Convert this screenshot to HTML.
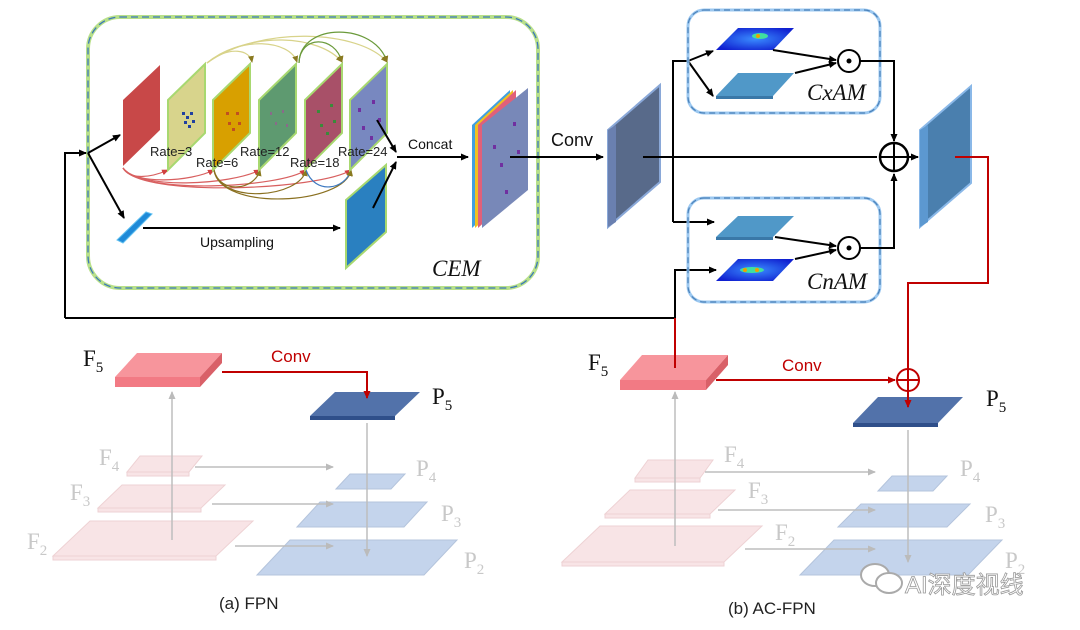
<!DOCTYPE html>
<html><head><meta charset="utf-8"><style>
html,body{margin:0;padding:0;background:#fff;width:1080px;height:630px;overflow:hidden}
svg{display:block}
text{font-family:"Liberation Sans","Noto Sans CJK SC",sans-serif}
text.s,.s text{font-family:"Liberation Serif",serif}
</style></head><body>
<svg width="1080" height="630" viewBox="0 0 1080 630" xmlns="http://www.w3.org/2000/svg">
<defs>
<marker id="ak" markerWidth="8" markerHeight="8" refX="7" refY="4" orient="auto" markerUnits="userSpaceOnUse"><path d="M0,0.5 L8,4 L0,7.5z" fill="#000"/></marker>
<marker id="ar" markerWidth="8" markerHeight="8" refX="7" refY="4" orient="auto" markerUnits="userSpaceOnUse"><path d="M0,0.5 L8,4 L0,7.5z" fill="#c00000"/></marker>
<marker id="ag" markerWidth="8" markerHeight="8" refX="7" refY="4" orient="auto" markerUnits="userSpaceOnUse"><path d="M0,0.5 L8,4 L0,7.5z" fill="#bbb"/></marker>
<marker id="ay" markerWidth="7" markerHeight="7" refX="6" refY="3.5" orient="auto" markerUnits="userSpaceOnUse"><path d="M0,0.5 L7,3.5 L0,6.5z" fill="#8a7a20"/></marker>
<marker id="arr" markerWidth="7" markerHeight="7" refX="6" refY="3.5" orient="auto" markerUnits="userSpaceOnUse"><path d="M0,0.5 L7,3.5 L0,6.5z" fill="#d04040"/></marker>
<radialGradient id="hm" cx="0.5" cy="0.5" r="0.6"><stop offset="0" stop-color="#3a8cff"/><stop offset="1" stop-color="#1020d0"/></radialGradient>
</defs>

<!-- CEM box -->
<rect x="88" y="17" width="450" height="271" rx="32" fill="none" stroke="#b8e08a" stroke-width="4"/>
<rect x="88" y="17" width="450" height="271" rx="32" fill="none" stroke="#3c78b8" stroke-width="1.3" stroke-dasharray="7,4"/>

<!-- input lines -->
<polyline points="65,318 65,153 86,153" fill="none" stroke="#000" stroke-width="2" marker-end="url(#ak)"/>
<line x1="88" y1="153" x2="120" y2="135" stroke="#000" stroke-width="2" marker-end="url(#ak)"/>
<line x1="88" y1="153" x2="124" y2="218" stroke="#000" stroke-width="2" marker-end="url(#ak)"/>
<polyline points="65,318 675,318 675,270 716,270" fill="none" stroke="#000" stroke-width="2" marker-end="url(#ak)"/>

<!-- curved arcs -->
<g fill="none" stroke-width="1.2">
<path d="M207,63 C230,45 250,50 252,62" stroke="#d8d38a" marker-end="url(#ay)"/>
<path d="M207,63 C240,35 290,40 297,62" stroke="#d8d38a" marker-end="url(#ay)"/>
<path d="M207,63 C250,30 320,35 342,62" stroke="#d8d38a" marker-end="url(#ay)"/>
<path d="M207,63 C260,25 360,30 387,62" stroke="#d8d38a" marker-end="url(#ay)"/>
<path d="M299,63 C300,35 335,35 342,62" stroke="#6a9a3a" marker-end="url(#ay)"/>
<path d="M299,63 C300,22 375,22 387,62" stroke="#6a9a3a" marker-end="url(#ay)"/>
<path d="M123,168 C130,180 150,178 168,170" stroke="#d86060" marker-end="url(#arr)"/>
<path d="M123,168 C135,185 190,182 214,170" stroke="#d86060" marker-end="url(#arr)"/>
<path d="M123,168 C140,190 230,185 260,170" stroke="#d86060" marker-end="url(#arr)"/>
<path d="M123,168 C140,195 280,188 306,170" stroke="#d86060" marker-end="url(#arr)"/>
<path d="M123,168 C140,198 320,190 351,170" stroke="#d86060" marker-end="url(#arr)"/>
<path d="M214,170 C220,195 255,190 260,170" stroke="#8a7020" marker-end="url(#ay)"/>
<path d="M214,170 C220,205 300,198 306,170" stroke="#8a7020" marker-end="url(#ay)"/>
<path d="M214,170 C220,212 345,205 351,170" stroke="#8a7020" marker-end="url(#ay)"/>
<path d="M306,170 C315,195 345,190 351,170" stroke="#3c78c0" marker-end="url(#ay)"/>
</g>

<!-- feature planes -->
<polygon points="123,100 160,65 160,130 123,166" fill="#c84848"/>
<polygon points="168,100 205,64 205,133 168,170" fill="#d8d48c" stroke="#a8d870" stroke-width="2"/>
<polygon points="213,100 250,64 250,133 213,170" fill="#d8a000" stroke="#a8d870" stroke-width="2"/>
<polygon points="259,100 296,64 296,133 259,170" fill="#5e9a70" stroke="#a8d870" stroke-width="2"/>
<polygon points="305,100 342,64 342,133 305,170" fill="#a85068" stroke="#a8d870" stroke-width="2"/>
<polygon points="350,100 387,64 387,133 350,170" fill="#7888c0" stroke="#a8d870" stroke-width="2"/>
<g fill="#2040a0"><rect x="182" y="112" width="3" height="3"/><rect x="186" y="116" width="3" height="3"/><rect x="190" y="112" width="3" height="3"/><rect x="184" y="121" width="3" height="3"/><rect x="188" y="125" width="3" height="3"/><rect x="192" y="120" width="3" height="3"/></g>
<g fill="#c05020"><rect x="226" y="112" width="3" height="3"/><rect x="236" y="112" width="3" height="3"/><rect x="228" y="122" width="3" height="3"/><rect x="238" y="122" width="3" height="3"/><rect x="232" y="128" width="3" height="3"/></g>
<g fill="#8a6a8a"><rect x="270" y="112" width="2" height="3"/><rect x="282" y="110" width="2" height="3"/><rect x="275" y="122" width="2" height="3"/><rect x="286" y="124" width="2" height="3"/></g>
<g fill="#3a8a3a"><rect x="317" y="110" width="3" height="3"/><rect x="330" y="104" width="3" height="3"/><rect x="320" y="124" width="3" height="3"/><rect x="333" y="120" width="3" height="3"/><rect x="326" y="132" width="3" height="3"/></g>
<g fill="#7030a0"><rect x="358" y="108" width="3" height="4"/><rect x="372" y="100" width="3" height="4"/><rect x="362" y="126" width="3" height="4"/><rect x="378" y="118" width="3" height="4"/><rect x="370" y="136" width="3" height="4"/></g>

<g font-size="13" fill="#222">
<text x="150" y="156">Rate=3</text><text x="196" y="167">Rate=6</text><text x="240" y="156">Rate=12</text><text x="290" y="167">Rate=18</text><text x="338" y="156">Rate=24</text>
</g>

<!-- upsampling -->
<polygon points="117,240 146,212 152,214 123,243" fill="#1f8ad8" stroke="#60c0f0"/>
<polygon points="346,200 386,165 386,232 346,268" fill="#2a80c0" stroke="#a8d870" stroke-width="2"/>
<line x1="143" y1="228" x2="340" y2="228" stroke="#000" stroke-width="2" marker-end="url(#ak)"/>
<text x="200" y="247" font-size="14" fill="#111">Upsampling</text>
<line x1="377" y1="120" x2="396" y2="152" stroke="#000" stroke-width="2" marker-end="url(#ak)"/>
<line x1="373" y1="208" x2="396" y2="162" stroke="#000" stroke-width="2" marker-end="url(#ak)"/>
<line x1="397" y1="157" x2="468" y2="157" stroke="#000" stroke-width="2" marker-end="url(#ak)"/>
<text x="408" y="149" font-size="14" fill="#111">Concat</text>
<polygon points="472,125 510,90 510,193 472,228" fill="#40a0e0"/>
<polygon points="475,125 513,90 513,193 475,228" fill="#f0c020"/>
<polygon points="478,125 516,90 516,193 478,228" fill="#e0607a"/>
<polygon points="482,125 528,88 528,190 482,228" fill="#7888b8"/>
<g fill="#7030a0"><rect x="493" y="145" width="3" height="4"/><rect x="513" y="122" width="3" height="4"/><rect x="500" y="163" width="3" height="4"/><rect x="517" y="150" width="3" height="4"/><rect x="505" y="190" width="3" height="4"/></g>
<text x="432" y="276" font-size="23" font-style="italic" class="s" fill="#111">CEM</text>

<!-- conv -->
<line x1="510" y1="157" x2="603" y2="157" stroke="#000" stroke-width="2" marker-end="url(#ak)"/>
<text x="551" y="146" font-size="18" fill="#111">Conv</text>
<polygon points="608,130 660,85 660,182 608,227" fill="#586a8a" stroke="#8aa8d8" stroke-width="2"/>
<polygon points="608,130 616,125 616,222 608,227" fill="#6a80b0"/>
<line x1="643" y1="157" x2="877" y2="157" stroke="#000" stroke-width="2"/>
<polyline points="673,222 673,61 688,61" fill="none" stroke="#000" stroke-width="2"/>
<line x1="673" y1="222" x2="714" y2="222" stroke="#000" stroke-width="2" marker-end="url(#ak)"/>
<line x1="688" y1="61" x2="713" y2="51" stroke="#000" stroke-width="2" marker-end="url(#ak)"/>
<line x1="688" y1="61" x2="713" y2="96" stroke="#000" stroke-width="2" marker-end="url(#ak)"/>

<rect x="688" y="10" width="192" height="103" rx="16" fill="none" stroke="#9cc8f0" stroke-width="3"/>
<rect x="688" y="10" width="192" height="103" rx="16" fill="none" stroke="#4a80b8" stroke-width="1.2" stroke-dasharray="6,4"/>
<rect x="688" y="198" width="192" height="104" rx="16" fill="none" stroke="#9cc8f0" stroke-width="3"/>
<rect x="688" y="198" width="192" height="104" rx="16" fill="none" stroke="#4a80b8" stroke-width="1.2" stroke-dasharray="6,4"/>
<polygon points="716,50 738,28 794,28 773,50" fill="url(#hm)"/>
<ellipse cx="760" cy="36" rx="8" ry="3" fill="#40e0a0"/><circle cx="758" cy="36" r="2" fill="#f0a000"/>
<polygon points="716,96 738,73 794,73 773,96" fill="#5098c8"/>
<rect x="716" y="96" width="57" height="3" fill="#3a78a8"/>
<polygon points="716,237 738,216 794,216 773,237" fill="#5098c8"/>
<rect x="716" y="237" width="57" height="3" fill="#3a78a8"/>
<polygon points="716,281 738,259 794,259 773,281" fill="url(#hm)"/>
<ellipse cx="752" cy="270" rx="12" ry="3" fill="#40e0a0"/><circle cx="745" cy="270" r="2" fill="#f0a000"/><circle cx="757" cy="270" r="2" fill="#f0a000"/>
<text x="807" y="100" font-size="23" font-style="italic" class="s" fill="#111">CxAM</text>
<text x="807" y="289" font-size="23" font-style="italic" class="s" fill="#111">CnAM</text>
<line x1="773" y1="50" x2="836" y2="60" stroke="#000" stroke-width="2" marker-end="url(#ak)"/>
<line x1="795" y1="73" x2="836" y2="63" stroke="#000" stroke-width="2" marker-end="url(#ak)"/>
<line x1="775" y1="237" x2="836" y2="246" stroke="#000" stroke-width="2" marker-end="url(#ak)"/>
<line x1="795" y1="259" x2="836" y2="250" stroke="#000" stroke-width="2" marker-end="url(#ak)"/>
<circle cx="849" cy="61" r="11" fill="#fff" stroke="#000" stroke-width="2"/><circle cx="849" cy="61" r="2.5" fill="#000"/>
<circle cx="849" cy="248" r="11" fill="#fff" stroke="#000" stroke-width="2"/><circle cx="849" cy="248" r="2.5" fill="#000"/>
<polyline points="860,61 894,61 894,141" fill="none" stroke="#000" stroke-width="2" marker-end="url(#ak)"/>
<polyline points="860,248 894,248 894,174" fill="none" stroke="#000" stroke-width="2" marker-end="url(#ak)"/>
<circle cx="894" cy="157" r="14" fill="none" stroke="#000" stroke-width="2.5"/>
<line x1="880" y1="157" x2="908" y2="157" stroke="#000" stroke-width="2"/><line x1="894" y1="143" x2="894" y2="171" stroke="#000" stroke-width="2"/>
<line x1="908" y1="157" x2="918" y2="157" stroke="#000" stroke-width="2" marker-end="url(#ak)"/>
<polygon points="920,130 971,86 971,183 920,227" fill="#4a7fae" stroke="#8ab8e8" stroke-width="2"/>
<polygon points="920,130 928,125 928,222 920,227" fill="#5c98d0"/>
<polyline points="955,157 988,157 988,283 908,283 908,369" fill="none" stroke="#c00000" stroke-width="2"/>

<!-- FPN slabs -->
<g fill="#f8e4e6" stroke="#eed2d4">
<polygon points="127,472 140,456 202,456 189,472"/><rect x="127" y="472" width="62" height="4"/>
<polygon points="98,508 122,485 225,485 201,508"/><rect x="98" y="508" width="103" height="4"/>
<polygon points="53,556 90,521 253,521 216,556"/><rect x="53" y="556" width="163" height="4"/>
<polygon points="635,478 648,460 713,460 700,478"/><rect x="635" y="478" width="65" height="4"/>
<polygon points="605,514 630,490 735,490 710,514"/><rect x="605" y="514" width="105" height="4"/>
<polygon points="562,562 600,526 762,526 724,562"/><rect x="562" y="562" width="162" height="4"/>
</g>
<g fill="#c4d4ec" stroke="#b4c4dc">
<polygon points="336,489 350,474 405,474 391,489"/>
<polygon points="297,527 320,502 427,502 404,527"/>
<polygon points="257,575 290,540 457,540 424,575"/>
<polygon points="878,491 892,476 947,476 933,491"/>
<polygon points="838,527 861,504 970,504 947,527"/>
<polygon points="800,575 834,540 1002,540 968,575"/>
</g>
<g stroke="#bdbdbd" stroke-width="1.5" fill="none">
<line x1="172" y1="540" x2="172" y2="392" marker-end="url(#ag)"/>
<line x1="195" y1="467" x2="333" y2="467" marker-end="url(#ag)"/>
<line x1="212" y1="504" x2="333" y2="504" marker-end="url(#ag)"/>
<line x1="235" y1="546" x2="333" y2="546" marker-end="url(#ag)"/>
<line x1="367" y1="423" x2="367" y2="556" marker-end="url(#ag)"/>
<line x1="675" y1="546" x2="675" y2="392" marker-end="url(#ag)"/>
<line x1="705" y1="472" x2="875" y2="472" marker-end="url(#ag)"/>
<line x1="718" y1="510" x2="875" y2="510" marker-end="url(#ag)"/>
<line x1="745" y1="549" x2="875" y2="549" marker-end="url(#ag)"/>
<line x1="908" y1="430" x2="908" y2="562" marker-end="url(#ag)"/>
</g>
<polygon points="115,377 137,353 222,353 200,377" fill="#f7959c"/>
<rect x="115" y="377" width="85" height="10" fill="#f27a84"/>
<polygon points="200,377 222,353 222,363 200,387" fill="#d96068"/>
<polygon points="620,380 642,355 728,355 706,380" fill="#f7959c"/>
<rect x="620" y="380" width="86" height="10" fill="#f27a84"/>
<polygon points="706,380 728,355 728,365 706,390" fill="#d96068"/>
<polygon points="310,416 335,392 420,392 395,416" fill="#5272aa"/>
<rect x="310" y="416" width="85" height="4" fill="#2f4f8a"/>
<polygon points="853,423 878,397 963,397 938,423" fill="#5272aa"/>
<rect x="853" y="423" width="85" height="4" fill="#2f4f8a"/>

<polyline points="222,372 367,372 367,398" fill="none" stroke="#c00000" stroke-width="2" marker-end="url(#ar)"/>
<text x="271" y="362" font-size="17" fill="#c00000">Conv</text>
<line x1="675" y1="318" x2="675" y2="368" stroke="#c00000" stroke-width="2"/>
<line x1="716" y1="380" x2="895" y2="380" stroke="#c00000" stroke-width="2" marker-end="url(#ar)"/>
<text x="782" y="371" font-size="17" fill="#c00000">Conv</text>
<circle cx="908" cy="380" r="11" fill="none" stroke="#c00000" stroke-width="2"/>
<line x1="897" y1="380" x2="919" y2="380" stroke="#c00000" stroke-width="2"/>
<line x1="908" y1="369" x2="908" y2="407" stroke="#c00000" stroke-width="2" marker-end="url(#ar)"/>

<g class="s" font-size="23">
<text x="83" y="366" fill="#111">F<tspan font-size="15" dy="6">5</tspan></text>
<text x="432" y="404" fill="#111">P<tspan font-size="15" dy="6">5</tspan></text>
<text x="588" y="370" fill="#111">F<tspan font-size="15" dy="6">5</tspan></text>
<text x="986" y="406" fill="#111">P<tspan font-size="15" dy="6">5</tspan></text>
<g fill="#c8c8c8">
<text x="99" y="465">F<tspan font-size="15" dy="6">4</tspan></text>
<text x="70" y="500">F<tspan font-size="15" dy="6">3</tspan></text>
<text x="27" y="549">F<tspan font-size="15" dy="6">2</tspan></text>
<text x="416" y="476">P<tspan font-size="15" dy="6">4</tspan></text>
<text x="441" y="521">P<tspan font-size="15" dy="6">3</tspan></text>
<text x="464" y="568">P<tspan font-size="15" dy="6">2</tspan></text>
<text x="724" y="462">F<tspan font-size="15" dy="6">4</tspan></text>
<text x="748" y="498">F<tspan font-size="15" dy="6">3</tspan></text>
<text x="775" y="540">F<tspan font-size="15" dy="6">2</tspan></text>
<text x="960" y="476">P<tspan font-size="15" dy="6">4</tspan></text>
<text x="985" y="522">P<tspan font-size="15" dy="6">3</tspan></text>
<text x="1005" y="568">P<tspan font-size="15" dy="6">2</tspan></text>
</g></g>

<text x="219" y="609" font-size="17" fill="#222">(a) FPN</text>
<text x="728" y="614" font-size="17" fill="#222">(b) AC-FPN</text>

<g fill="#fff" stroke="#aaa" stroke-width="2">
<ellipse cx="875" cy="575" rx="14" ry="11"/>
<ellipse cx="889" cy="583" rx="13" ry="10"/>
</g>
<text x="905" y="593" font-size="24" fill="#fff" stroke="#999" stroke-width="0.8">AI深度视线</text>
</svg>
</body></html>
